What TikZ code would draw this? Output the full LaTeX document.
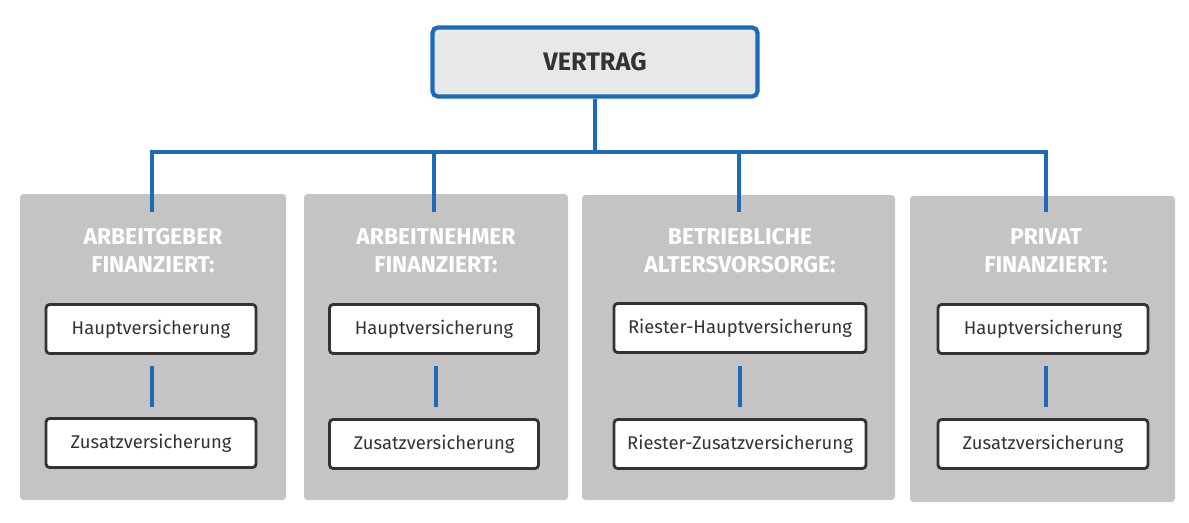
\documentclass[tikz,border=0pt]{standalone}
\usepackage{fontspec}
\setmainfont{Fira Sans}
\usetikzlibrary{positioning}
\definecolor{vblue}{HTML}{1B6BB8}
\definecolor{pgray}{HTML}{C4C4C4}
\definecolor{hgray}{HTML}{E8E8E8}
\definecolor{tgray}{HTML}{333333}
\begin{document}
\begin{tikzpicture}[
    x=0.02cm, y=-0.02cm,
    panel/.style={rectangle, fill=pgray, rounded corners=2pt},
    head/.style={rectangle, draw=vblue, line width=2.4pt, fill=hgray, rounded corners=3pt, minimum width=6.5cm, minimum height=1.38cm, font=\bfseries\Large, text=tgray},
    item/.style={rectangle, draw=tgray, line width=1.6pt, fill=white, rounded corners=2pt, minimum height=0.98cm, font=\fontsize{10.5}{12}\selectfont, text=tgray},
    title/.style={align=center, text=white, font=\bfseries\fontsize{13}{16}\selectfont, inner sep=0pt},
    link/.style={draw=vblue, line width=2.2pt}
]
    \useasboundingbox (0,0) rectangle (1189,522);

    % Top node
    \node[head] (top) at (595,62) {VERTRAG};

    % Panels
    \fill[panel] (20,194) rectangle (286,500);
    \fill[panel] (304,194) rectangle (568,500);
    \fill[panel] (582,195) rectangle (895,500);
    \fill[panel] (910,196) rectangle (1175,502);

    % Tree lines
    \coordinate (bar) at (595,152);
    \coordinate (d1) at (152,212);
    \coordinate (d2) at (434,212);
    \coordinate (d3) at (739,212);
    \coordinate (d4) at (1046,212);
    \draw[link] (top.south) -- (bar);
    \draw[link] (d1) |- (bar) -| (d4);
    \draw[link] (d2) -- (d2 |- bar);
    \draw[link] (d3) -- (d3 |- bar);

    % Panel titles
    \node[title] (t1) at (153,251) {ARBEITGEBER\\FINANZIERT:};
    \node[title] (t2) at (436,251) {ARBEITNEHMER\\FINANZIERT:};
    \node[title] (t3) at (740,251) {BETRIEBLICHE\\ALTERSVORSORGE:};
    \node[title] (t4) at (1046,251) {PRIVAT\\FINANZIERT:};

    % Inner boxes
    \node[item, minimum width=4.2cm] (h1) at (151,329) {Hauptversicherung};
    \node[item, minimum width=4.2cm] (z1) at (151,443) {Zusatzversicherung};
    \node[item, minimum width=4.18cm] (h2) at (434,329) {Hauptversicherung};
    \node[item, minimum width=4.18cm] (z2) at (434,444) {Zusatzversicherung};
    \node[item, minimum width=5.04cm] (h3) at (740,328) {Riester-Hauptversicherung};
    \node[item, minimum width=5.04cm] (z3) at (740,444) {Riester-Zusatzversicherung};
    \node[item, minimum width=4.2cm] (h4) at (1043,329) {Hauptversicherung};
    \node[item, minimum width=4.2cm] (z4) at (1043,444) {Zusatzversicherung};

    % Inner links
    \foreach \i/\xx in {1/152,2/436,3/740,4/1046}
        \draw[link, shorten >=7pt, shorten <=7pt] (\xx,354) -- (\xx,419);
\end{tikzpicture}
\end{document}
